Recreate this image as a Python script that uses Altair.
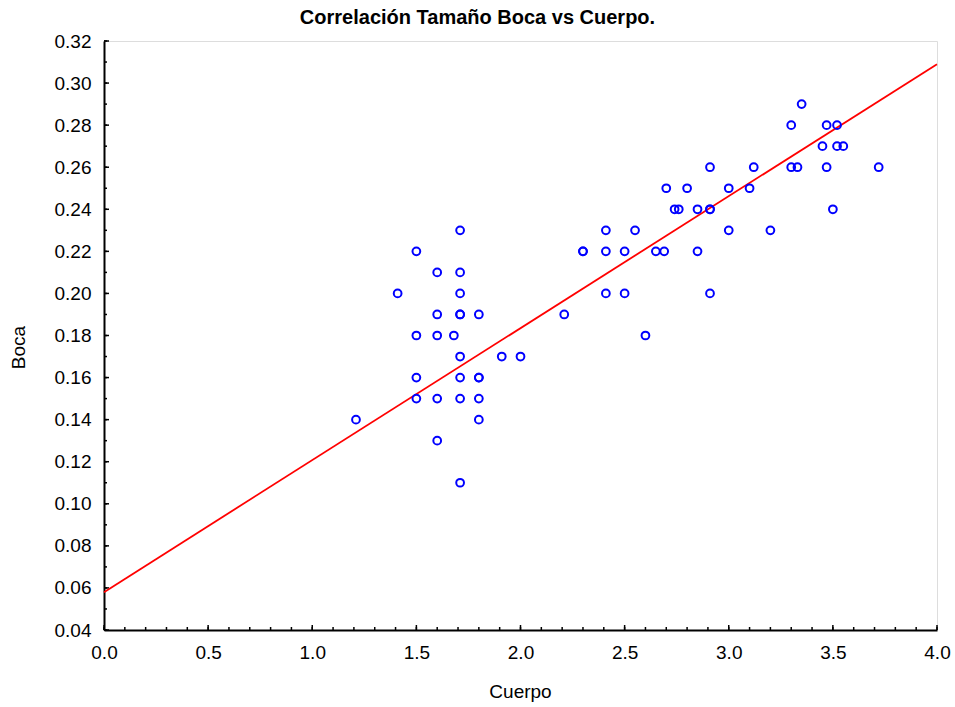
import altair as alt
import pandas as pd

cuerpo = [1.21, 1.41, 1.50, 1.50, 1.50, 1.50, 1.60, 1.60, 1.60, 1.60, 1.60, 1.68,
          1.71, 1.71, 1.71, 1.71, 1.71, 1.71, 1.71, 1.71, 1.71,
          1.80, 1.80, 1.80, 1.80, 1.80, 1.91, 2.00, 2.21, 2.30, 2.30,
          2.41, 2.41, 2.41, 2.50, 2.50, 2.55, 2.60, 2.65, 2.69, 2.70,
          2.74, 2.76, 2.80, 2.85, 2.85, 2.91, 2.91, 2.91, 2.91,
          3.00, 3.00, 3.10, 3.12, 3.20, 3.30, 3.30, 3.33, 3.35,
          3.45, 3.47, 3.47, 3.50, 3.52, 3.52, 3.55, 3.72]
boca = [0.14, 0.20, 0.22, 0.18, 0.16, 0.15, 0.21, 0.19, 0.18, 0.15, 0.13, 0.18,
        0.23, 0.21, 0.20, 0.19, 0.19, 0.17, 0.16, 0.15, 0.11,
        0.19, 0.16, 0.16, 0.15, 0.14, 0.17, 0.17, 0.19, 0.22, 0.22,
        0.23, 0.22, 0.20, 0.22, 0.20, 0.23, 0.18, 0.22, 0.22, 0.25,
        0.24, 0.24, 0.25, 0.24, 0.22, 0.26, 0.24, 0.24, 0.20,
        0.25, 0.23, 0.25, 0.26, 0.23, 0.28, 0.26, 0.26, 0.29,
        0.27, 0.28, 0.26, 0.24, 0.28, 0.27, 0.27, 0.26]

line_x = [0.0, 4.0]
line_y = [0.058, 0.309]

x_ticks = [0.0, 0.5, 1.0, 1.5, 2.0, 2.5, 3.0, 3.5, 4.0]
y_ticks = [0.04, 0.06, 0.08, 0.10, 0.12, 0.14, 0.16, 0.18, 0.20, 0.22, 0.24, 0.26, 0.28, 0.30, 0.32]
x_minor = [round(i * 0.1, 2) for i in range(41)]
y_minor = [round(0.04 + i * 0.01, 2) for i in range(29)]

W, H = 833, 589
FONT = "Liberation Sans"

pts = pd.DataFrame({"Cuerpo": cuerpo, "Boca": boca})
ln = pd.DataFrame({"Cuerpo": line_x, "Boca": line_y})

xs = alt.Scale(domain=[0, 4], nice=False, zero=False)
ys = alt.Scale(domain=[0.04, 0.32], nice=False, zero=False)

xaxis = alt.Axis(values=x_ticks, format=".1f", ticks=False, grid=False, labelFlush=False,
                 labelFont=FONT, labelFontSize=19, labelColor="black", labelPadding=13,
                 domainColor="black", domainWidth=2,
                 title="Cuerpo", titleFont=FONT, titleFontSize=19, titleFontWeight="normal",
                 titleColor="black", titleX=416, titleY=61, titleAlign="center",
                 titleBaseline="middle")
yaxis = alt.Axis(values=y_ticks, format=".2f", ticks=False, grid=False, labelFlush=False,
                 labelFont=FONT, labelFontSize=19, labelColor="black", labelPadding=13,
                 domainColor="black", domainWidth=2,
                 title="Boca", titleFont=FONT, titleFontSize=19, titleFontWeight="normal",
                 titleColor="black", titleX=-86, titleY=306, titleAngle=-90,
                 titleAlign="center", titleBaseline="middle")

points = alt.Chart(pts).mark_point(
    shape="circle", filled=False, color="#0000ff", size=60, strokeWidth=2, opacity=1
).encode(
    x=alt.X("Cuerpo:Q", scale=xs, axis=xaxis),
    y=alt.Y("Boca:Q", scale=ys, axis=yaxis),
)

fit = alt.Chart(ln).mark_line(color="#ff0000", strokeWidth=1.8).encode(
    x=alt.X("Cuerpo:Q", scale=xs),
    y=alt.Y("Boca:Q", scale=ys),
)

xmin_df = pd.DataFrame({"v": x_minor})
xmaj_df = pd.DataFrame({"v": x_ticks})
ymin_df = pd.DataFrame({"v": y_minor})
ymaj_df = pd.DataFrame({"v": y_ticks})

xminor_r = alt.Chart(xmin_df).mark_rule(color="black", strokeWidth=1.5).encode(
    x=alt.X("v:Q", scale=xs), y=alt.value(H), y2=alt.value(H - 3))
xmajor_r = alt.Chart(xmaj_df).mark_rule(color="black", strokeWidth=1.5).encode(
    x=alt.X("v:Q", scale=xs), y=alt.value(H), y2=alt.value(H - 5))
yminor_r = alt.Chart(ymin_df).mark_rule(color="black", strokeWidth=1.5).encode(
    y=alt.Y("v:Q", scale=ys), x=alt.value(0), x2=alt.value(3))
ymajor_r = alt.Chart(ymaj_df).mark_rule(color="black", strokeWidth=1.5).encode(
    y=alt.Y("v:Q", scale=ys), x=alt.value(0), x2=alt.value(5))

chart = alt.layer(xminor_r, xmajor_r, yminor_r, ymajor_r, fit, points).properties(
    width=W, height=H,
    title=alt.TitleParams("Correlación Tamaño Boca vs Cuerpo.", font=FONT, fontSize=20,
                          fontWeight="bold", color="black", anchor="middle", dx=-43, offset=4),
    padding={"left": 104, "top": 41, "right": 18, "bottom": 77},
    autosize=alt.AutoSizeParams(type="none"),
).configure_view(stroke=None).configure(background="white")

chart.save("out.html", embed_options={"renderer": "svg", "actions": False})
